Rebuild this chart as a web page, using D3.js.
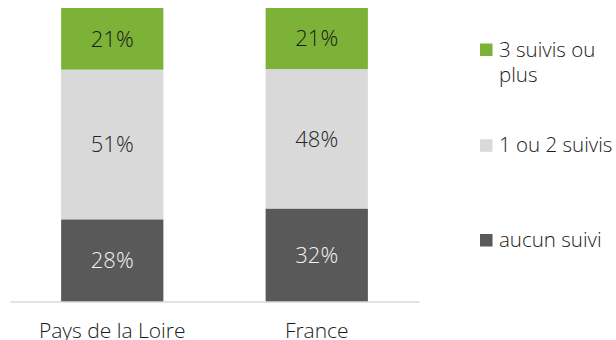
<!DOCTYPE html>
<html>
<head>
<meta charset="utf-8">
<script src="https://cdn.jsdelivr.net/npm/d3@7"></script>
<style>
  html, body { margin: 0; padding: 0; background: #fff; overflow: hidden; }
  svg { display: block; font-family: "Open Sans", "Noto Sans", sans-serif; font-weight: 300; }
</style>
</head>
<body>
<svg id="chart" width="616" height="340"></svg>
<script>
// Répartition des suivis par territoire (en %)
const categories = ["Pays de la Loire", "France"];
const seriesKeys = ["aucun", "unDeux", "troisPlus"];
const aucunSuivi = [28, 32];
const unOuDeuxSuivis = [51, 48];
const troisSuivisOuPlus = [21, 21];

const colors = { aucun: "#595959", unDeux: "#d9d9d9", troisPlus: "#7db239" };
const labelColors = { aucun: "#f2f2f2", unDeux: "#262626", troisPlus: "#1a1a1a" };

const rows = categories.map((c, i) => ({
  cat: c,
  aucun: aucunSuivi[i],
  unDeux: unOuDeuxSuivis[i],
  troisPlus: troisSuivisOuPlus[i]
}));

const svg = d3.select("#chart");

const x = d3.scaleBand()
  .domain(categories)
  .range([10, 419])
  .paddingInner(0.5)
  .paddingOuter(0.25);

const y = d3.scaleLinear().domain([0, 1]).range([301.5, 8]);

// empilement à 100 %
const stack = d3.stack().keys(seriesKeys).offset(d3.stackOffsetExpand);
const layers = stack(rows);

const g = svg.append("g");
layers.forEach(layer => {
  const key = layer.key;
  g.selectAll(null)
    .data(layer)
    .enter()
    .append("rect")
    .attr("x", d => x(d.data.cat))
    .attr("width", x.bandwidth())
    .attr("y", d => y(d[1]))
    .attr("height", d => y(d[0]) - y(d[1]))
    .attr("fill", colors[key]);

  g.selectAll(null)
    .data(layer)
    .enter()
    .append("text")
    .attr("x", d => x(d.data.cat) + x.bandwidth() / 2)
    .attr("y", d => (y(d[0]) + y(d[1])) / 2)
    .attr("dy", "0.36em")
    .attr("text-anchor", "middle")
    .attr("font-size", 22)
    .attr("fill", labelColors[key])
    .text(d => d.data[key] + "%");
});

// axe des catégories
const axis = d3.axisBottom(x).tickSize(0);
const axisG = svg.append("g")
  .attr("transform", `translate(0,${y(0)})`)
  .call(axis);
axisG.select(".domain").attr("stroke", "#c8c8c8").attr("stroke-width", 1.2);
axisG.selectAll("text")
  .attr("y", 36)
  .attr("dy", null)
  .attr("font-size", 21)
  .attr("font-family", "'Open Sans', 'Noto Sans', sans-serif")
  .attr("font-weight", 300)
  .attr("fill", "#1a1a1a");

// légende
const legendItems = [
  { key: "troisPlus", lines: ["3 suivis ou", "plus"], y: 56.5 },
  { key: "unDeux", lines: ["1 ou 2 suivis"], y: 152.3 },
  { key: "aucun", lines: ["aucun suivi"], y: 247 }
];
const legend = svg.append("g");
legendItems.forEach(item => {
  legend.append("rect")
    .attr("x", 480)
    .attr("y", item.y - 13)
    .attr("width", 12.5)
    .attr("height", 12.5)
    .attr("fill", colors[item.key]);
  const t = legend.append("text")
    .attr("x", 499)
    .attr("y", item.y)
    .attr("font-size", 20.5)
    .attr("fill", "#1a1a1a");
  item.lines.forEach((line, i) => {
    t.append("tspan")
      .attr("x", 499)
      .attr("dy", i === 0 ? 0 : 25)
      .text(line);
  });
});
</script>
</body>
</html>
